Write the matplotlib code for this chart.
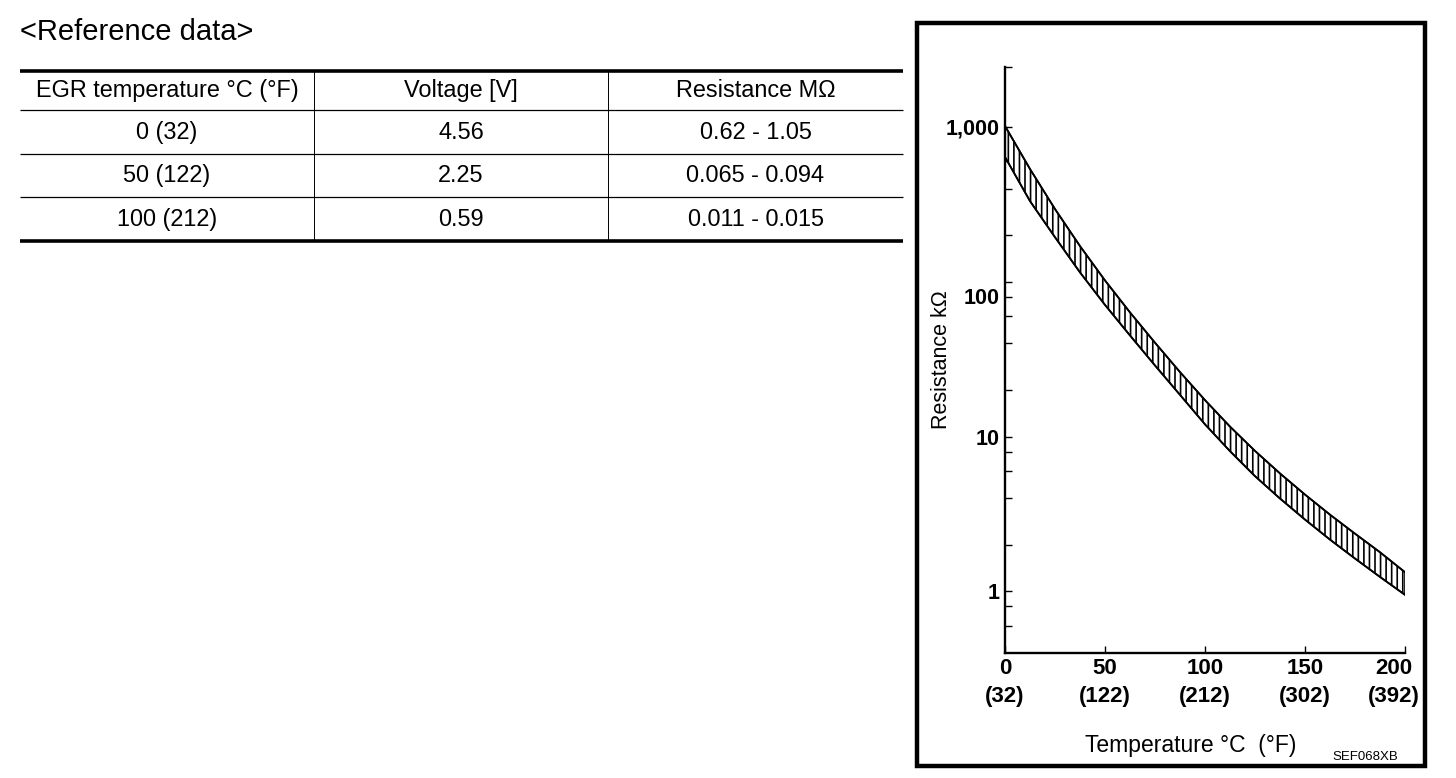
import numpy as np
import matplotlib
matplotlib.use('Agg')
import matplotlib.pyplot as plt
from matplotlib.patches import Rectangle
from matplotlib.ticker import NullFormatter
from matplotlib.transforms import ScaledTranslation

plt.rcParams['font.family'] = ['Liberation Sans', 'DejaVu Sans']
plt.rcParams['hatch.linewidth'] = 1.2

# reference table
table_title = '<Reference data>'
col_labels = ['EGR temperature °C (°F)', 'Voltage [V]', 'Resistance MΩ']
row_temps = ['0 (32)', '50 (122)', '100 (212)']
row_volts = ['4.56', '2.25', '0.59']
row_res = ['0.62 - 1.05', '0.065 - 0.094', '0.011 - 0.015']

# resistance band (kOhm)
temp_c = [0, 12.5, 25, 37.5, 50, 62.5, 75, 87.5, 100,
          112.5, 125, 137.5, 150, 162.5, 175, 187.5, 200]
res_upper = [1015, 535, 295, 170, 102, 63.4, 40.4, 26.1, 17.2,
             11.6, 8.08, 5.78, 4.22, 3.13, 2.36, 1.79, 1.33]
res_lower = [640, 332, 194, 115, 70.9, 45.0, 28.8, 18.6, 12.0,
             8.05, 5.55, 3.98, 2.91, 2.16, 1.63, 1.24, 0.95]

x_ticks = [0, 50, 100, 150, 200]
x_ticklabels = ['0\n(32)', '50\n(122)', '100\n(212)', '150\n(302)', '200\n(392)']
y_ticks = [1, 10, 100, 1000]
y_ticklabels = ['1', '10', '100', '1,000']
y_minor = [0.6, 0.8, 2, 4, 6, 8, 20, 40, 60, 80, 200, 400, 600, 800, 2440]

W, H = 1456, 778
fig = plt.figure(figsize=(W / 100, H / 100), dpi=100)

# overlay in pixel units for the table and frame
bg = fig.add_axes([0, 0, 1, 1])
bg.set_xlim(0, W)
bg.set_ylim(H, 0)
bg.axis('off')

bg.text(20, 32, table_title, fontsize=21, ha='left', va='center')
col_edges = [20, 314, 608, 903]
row_y = [70.5, 110, 154, 197, 241]
bg.hlines([row_y[0], row_y[-1]], col_edges[0], col_edges[-1], color='black', lw=2.6)
bg.hlines(row_y[1:-1], col_edges[0], col_edges[-1], color='black', lw=0.9)
bg.vlines(col_edges[1:3], row_y[0], row_y[-1], color='black', lw=0.7)
rows = [col_labels] + [list(r) for r in zip(row_temps, row_volts, row_res)]
for i, row in enumerate(rows):
    yc = (row_y[i] + row_y[i + 1]) / 2
    for j, txt in enumerate(row):
        xc = (col_edges[j] + col_edges[j + 1]) / 2
        bg.text(xc, yc, txt, fontsize=16.9, ha='center', va='center')

bg.add_patch(Rectangle((917, 22.5), 1425 - 917, 766 - 22.5, fill=False,
                       ec='black', lw=3.2))
bg.text(1365, 757, 'SEF068XB', fontsize=9.5, ha='center', va='center')

# graph
ax = fig.add_axes([1005 / W, 1 - 653 / H, 400 / W, 586 / H])
ax.set_yscale('log')
ax.fill_between(temp_c, res_lower, res_upper, facecolor='white',
                edgecolor='black', hatch='|||', linewidth=1.2, zorder=2)
ax.plot(temp_c, res_upper, color='black', lw=1.3, zorder=3)
ax.plot(temp_c, res_lower, color='black', lw=1.3, zorder=3)

ax.set_xlim(0, 200)
ax.set_ylim(0.4, 2440)
for s in ['top', 'right']:
    ax.spines[s].set_visible(False)
for s in ['left', 'bottom']:
    ax.spines[s].set_linewidth(1.7)

ax.tick_params(which='both', direction='in', length=5, width=1.0, pad=3.6)
ax.set_xticks(x_ticks, x_ticklabels, fontsize=16, fontweight='bold', linespacing=1.45)
ax.set_yticks(y_ticks, y_ticklabels, fontsize=15.5, fontweight='bold')
ax.set_yticks(y_minor, minor=True)
ax.yaxis.set_minor_formatter(NullFormatter())

# the "100" label sits a little below its tick, the last x label is pulled inside the frame
lbl = ax.yaxis.get_major_ticks()[2].label1
lbl.set_transform(lbl.get_transform() + ScaledTranslation(0, -14 / 100, fig.dpi_scale_trans))
lbl = ax.xaxis.get_major_ticks()[4].label1
lbl.set_transform(lbl.get_transform() + ScaledTranslation(-11 / 100, 0, fig.dpi_scale_trans))

ax.set_ylabel('Resistance kΩ', fontsize=15.5)
ax.yaxis.set_label_coords(-0.1325, 0.5)
ax.set_xlabel('Temperature °C  (°F)', fontsize=16.5)
ax.xaxis.set_label_coords(0.465, -0.138)

fig.savefig('out.png', dpi=100)
